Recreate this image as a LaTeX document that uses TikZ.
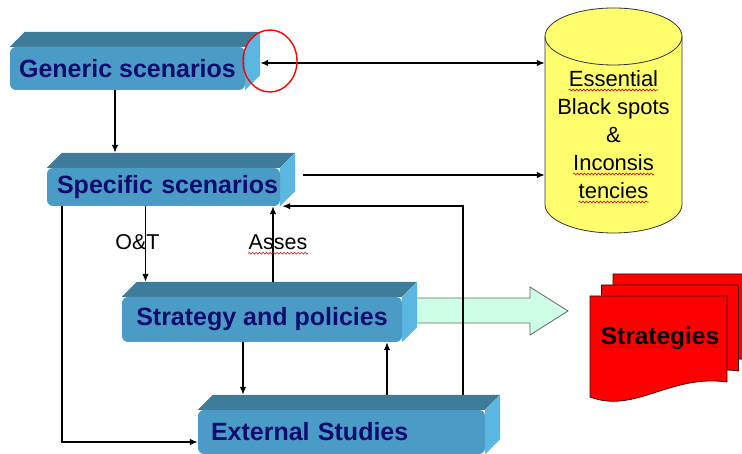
\documentclass[tikz,border=0pt]{standalone}
\usepackage{fontspec}
\setmainfont{Liberation Sans}
\usetikzlibrary{positioning,arrows.meta,backgrounds,decorations.pathmorphing}
\definecolor{boxfront}{RGB}{74,156,198}
\definecolor{boxtop}{RGB}{62,124,154}
\definecolor{boxside}{RGB}{92,182,226}
\definecolor{boxtext}{RGB}{12,12,110}
\definecolor{dbfill}{RGB}{255,255,110}
\definecolor{mint}{RGB}{204,255,230}
\tikzset{%
  scenario/.style={
    rectangle,
    rounded corners=6pt,
    fill=boxfront,
    text=boxtext,
    inner sep=0pt,
    font=\fontsize{25}{30}\selectfont\bfseries
  },
  top face/.style={fill=boxtop},
  side face/.style={fill=boxside},
  link/.style={line width=1.4pt},
  flow tag/.style={inner sep=0pt, font=\fontsize{21.5}{26}\selectfont},
  spot line/.style={inner sep=0pt, anchor=base, font=\fontsize{22}{26}\selectfont},
  squiggle/.style={red!85!black, line width=0.6pt,
    decorate, decoration={snake, segment length=3.5pt, amplitude=0.9pt}},
  doc page/.style={fill=red, draw=black!75!red, line width=0.8pt},
}

\begin{document}
\begin{tikzpicture}[x=1pt, y=1pt, >={Latex[length=8pt,width=6.5pt]}]
    \useasboundingbox (0,0) rectangle (742,454);

    \node [scenario, minimum width=235pt, minimum height=43pt] (gen) at (127.5,385.5) {Generic scenarios};
    \node [scenario, minimum width=233pt, minimum height=38pt, text width=229pt, align=right] (spec) at (163.5,267) {Specific scenarios};
    \node [scenario, minimum width=280pt, minimum height=45pt] (strat) at (262,134.5) {Strategy and policies};
    \node [scenario, minimum width=287pt, minimum height=44pt, text width=261pt, align=left] (ext) at (341.5,22) {External Studies};

    \begin{scope}[on background layer]
      \draw [fill=mint, draw=black!60, line width=0.8pt]
        (415,156) -- (530,156) -- (530,167) -- (568,143) -- (530,119) -- (530,131) -- (415,131) -- cycle;
      \foreach \n in {gen,spec,strat,ext} {
        \coordinate (\n-top) at ([yshift=15pt]\n.north);
        \fill [top face] (\n.north west) -- ++(15,15) -- ([shift={(15pt,15pt)}]\n.north east) -- (\n.north east) -- cycle;
        \fill [side face] (\n.north east) -- ++(15,15) -- ([shift={(15pt,15pt)}]\n.south east) -- (\n.south east) -- cycle;
      }
    \end{scope}

    \fill [dbfill] (545,417.5) -- (545,249.5) arc [start angle=180, end angle=360, x radius=68.5, y radius=28.5]
      -- (682,417.5) arc [start angle=0, end angle=180, x radius=68.5, y radius=28.5] -- cycle;
    \draw [black!80, line width=0.8pt] (545,417.5) -- (545,249.5) arc [start angle=180, end angle=360, x radius=68.5, y radius=28.5]
      -- (682,417.5) arc [start angle=0, end angle=180, x radius=68.5, y radius=28.5];
    \draw [black!80, line width=0.8pt] (545,417.5) arc [start angle=180, end angle=360, x radius=68.5, y radius=28.5];
    \node [minimum width=137pt, minimum height=168pt, inner sep=0pt] (spots) at (613.5,333.5) {};
    \foreach \l/\y [count=\i] in {Essential/367, Black spots/339, \&/311, Inconsis/283, tencies/255}
      \node [spot line] (spot-\i) at (613.5,\y) {\l};
    \foreach \i in {1,4,5}
      \draw [squiggle] ([yshift=-3pt]spot-\i.base west) -- ([yshift=-3pt]spot-\i.base east);

    \foreach \x/\y in {613/180, 601.5/169, 590/158}
      \filldraw [doc page] (\x,\y) -- (\x+137,\y) -- (\x+137,\y-86)
        .. controls (\x+80,\y-78) and (\x+45,\y-118) .. (\x,\y-101) -- cycle;
    \node [inner sep=0pt, anchor=base, font=\fontsize{24.5}{29}\selectfont\bfseries] (strategies) at (660,109) {Strategies};
    \draw [squiggle] ([yshift=-2pt]strategies.base west) -- ([yshift=-2pt]strategies.base east);

    \coordinate (gen-out) at ([shift={(15pt,5.5pt)}]gen.east);
    \coordinate (spec-out) at ([shift={(23pt,12pt)}]spec.east);
    \coordinate (gen-down) at ([xshift=-12.5pt]gen.south);
    \coordinate (spec-ot) at ([xshift=-18pt]spec.south);
    \coordinate (spec-left) at ([xshift=-101.5pt]spec.south);
    \coordinate (strat-asses) at ([xshift=11pt]strat-top);
    \coordinate (strat-down) at ([xshift=-19pt]strat.south);
    \coordinate (ext-up) at ([xshift=45.5pt]ext-top);
    \coordinate (ext-back) at ([xshift=121.5pt]ext-top);

    \draw [link, <->] (gen-out) -- (gen-out -| spots.west);
    \draw [link, ->] (spec-out) -- (spec-out -| spots.west);
    \draw [link, ->] (gen-down) -- (gen-down |- spec-top);
    \draw [link, ->] (spec-ot) -- (spec-ot |- strat-top)
      node [midway, xshift=-8pt, yshift=2pt, flow tag] (ot-tag) {O\&T};
    \draw [link, ->] (strat-asses) -- (strat-asses |- spec.south)
      node [midway, xshift=5pt, yshift=2pt, flow tag] (asses-tag) {Asses};
    \draw [squiggle] ([yshift=-4pt]asses-tag.base west) -- ([yshift=-4pt]asses-tag.base east);
    \draw [link, ->] (ext-back) |- ([xshift=2pt]spec.south east);
    \draw [link, ->] (strat-down) -- (strat-down |- ext-top);
    \draw [link, ->] (ext-up) -- (ext-up |- strat.south);
    \draw [link, ->] (spec-left) |- ([yshift=-10pt]ext.west);

    \draw [red, line width=1.4pt] (270,393) ellipse [x radius=27, y radius=31];

\end{tikzpicture}
\end{document}
